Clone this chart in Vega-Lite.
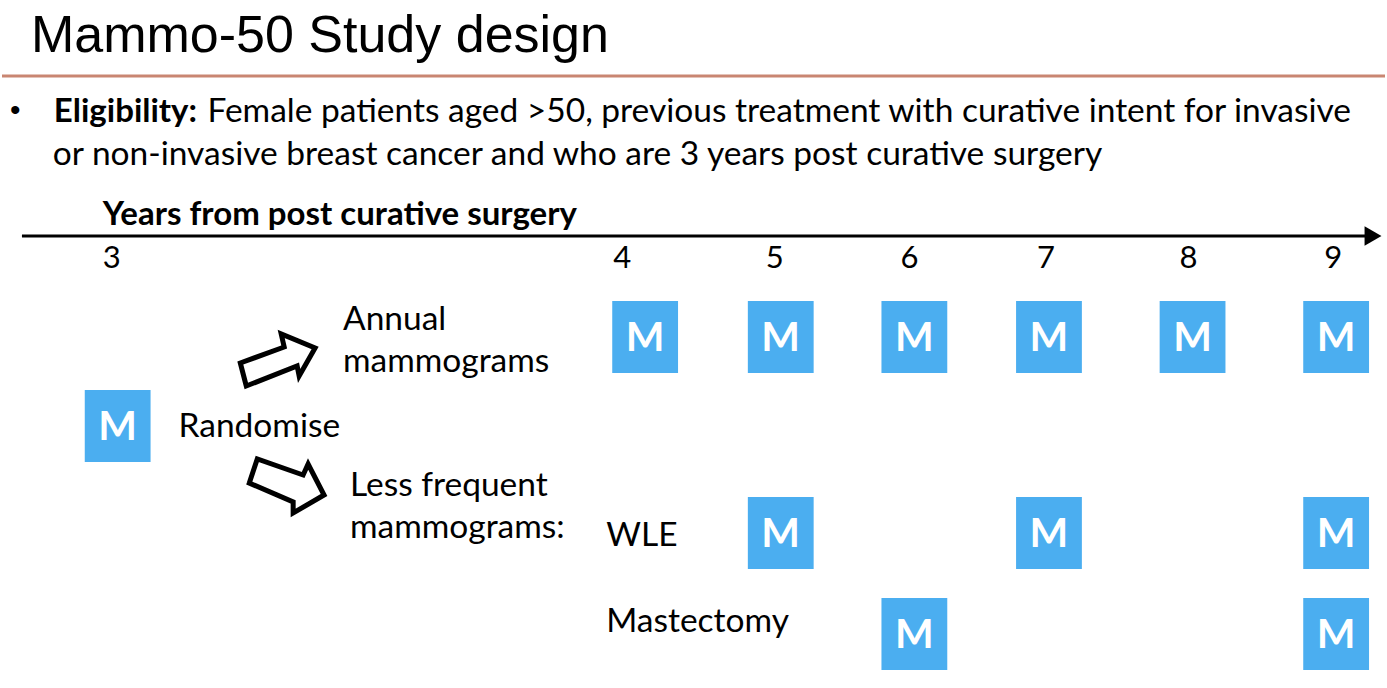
{
  "$schema": "https://vega.github.io/schema/vega-lite/v6.json",
  "autosize": {"type": "fit", "contains": "padding"},
  "width": 1387,
  "height": 688,
  "padding": 0,
  "background": "white",
  "config": {"view": {"stroke": null}},
  "datasets": {
    "boxes": [
      {"row": "annual", "x": 612, "x2": 678, "y": 301, "y2": 373, "cx": 645, "cy": 337},
      {"row": "annual", "x": 748, "x2": 814, "y": 301, "y2": 373, "cx": 781, "cy": 337},
      {"row": "annual", "x": 882, "x2": 948, "y": 301, "y2": 373, "cx": 915, "cy": 337},
      {"row": "annual", "x": 1017, "x2": 1083, "y": 301, "y2": 373, "cx": 1050, "cy": 337},
      {"row": "annual", "x": 1161, "x2": 1227, "y": 301, "y2": 373, "cx": 1194, "cy": 337},
      {"row": "annual", "x": 1305, "x2": 1371, "y": 301, "y2": 373, "cx": 1338, "cy": 337},
      {"row": "baseline", "x": 83, "x2": 149, "y": 390, "y2": 462, "cx": 116, "cy": 426},
      {"row": "wle", "x": 748, "x2": 814, "y": 497, "y2": 569, "cx": 781, "cy": 533},
      {"row": "wle", "x": 1017, "x2": 1083, "y": 497, "y2": 569, "cx": 1050, "cy": 533},
      {"row": "wle", "x": 1305, "x2": 1371, "y": 497, "y2": 569, "cx": 1338, "cy": 533},
      {"row": "mastectomy", "x": 882, "x2": 948, "y": 598, "y2": 670, "cx": 915, "cy": 634},
      {"row": "mastectomy", "x": 1305, "x2": 1371, "y": 598, "y2": 670, "cx": 1338, "cy": 634}
    ],
    "arrows": [
      {"arrow": "up", "o": 1, "x": 245, "y": 386},
      {"arrow": "up", "o": 2, "x": 239, "y": 363},
      {"arrow": "up", "o": 3, "x": 283, "y": 347},
      {"arrow": "up", "o": 4, "x": 280, "y": 334},
      {"arrow": "up", "o": 5, "x": 314, "y": 348},
      {"arrow": "up", "o": 6, "x": 298, "y": 376},
      {"arrow": "up", "o": 7, "x": 296, "y": 366},
      {"arrow": "up", "o": 8, "x": 245, "y": 386},
      {"arrow": "up", "o": 9, "x": 239, "y": 363},
      {"arrow": "down", "o": 1, "x": 256, "y": 459},
      {"arrow": "down", "o": 2, "x": 248, "y": 483},
      {"arrow": "down", "o": 3, "x": 292, "y": 502},
      {"arrow": "down", "o": 4, "x": 292, "y": 513},
      {"arrow": "down", "o": 5, "x": 323, "y": 495},
      {"arrow": "down", "o": 6, "x": 307, "y": 464},
      {"arrow": "down", "o": 7, "x": 302, "y": 475},
      {"arrow": "down", "o": 8, "x": 256, "y": 459},
      {"arrow": "down", "o": 9, "x": 248, "y": 483}
    ]
  },
  "encoding": {
    "x": {"type": "quantitative", "scale": {"domain": [0, 1387]}, "axis": null},
    "y": {"type": "quantitative", "scale": {"domain": [0, 688], "reverse": true}, "axis": null}
  },
  "layer": [
    {
      "data": {"values": [{"x": 0, "x2": 1387, "y": 76}]},
      "mark": {"type": "rule", "strokeWidth": 3, "color": "#C98672"},
      "encoding": {"x": {"field": "x", "type": "quantitative"}, "x2": {"field": "x2"}, "y": {"field": "y", "type": "quantitative"}}
    },
    {
      "data": {"values": [{"x": 20, "x2": 1372, "y": 236}]},
      "mark": {"type": "rule", "strokeWidth": 3, "color": "black"},
      "encoding": {"x": {"field": "x", "type": "quantitative"}, "x2": {"field": "x2"}, "y": {"field": "y", "type": "quantitative"}}
    },
    {
      "data": {"values": [{"x": 1375, "y": 236}]},
      "mark": {"type": "point", "shape": "triangle-right", "filled": true, "size": 380, "color": "black", "opacity": 1},
      "encoding": {"x": {"field": "x", "type": "quantitative"}, "y": {"field": "y", "type": "quantitative"}}
    },
    {
      "data": {"name": "arrows"},
      "mark": {"type": "line", "strokeWidth": 5, "color": "black", "strokeJoin": "miter", "strokeMiterLimit": 10},
      "encoding": {
        "x": {"field": "x", "type": "quantitative"},
        "y": {"field": "y", "type": "quantitative"},
        "detail": {"field": "arrow"},
        "order": {"field": "o", "type": "quantitative"}
      }
    },
    {
      "data": {"name": "boxes"},
      "mark": {"type": "rect", "color": "#4BAEF0"},
      "encoding": {
        "x": {"field": "x", "type": "quantitative"}, "x2": {"field": "x2"},
        "y": {"field": "y", "type": "quantitative"}, "y2": {"field": "y2"}
      }
    },
    {
      "data": {"name": "boxes"},
      "mark": {"type": "text", "text": "M", "color": "white", "font": "Lato", "fontWeight": "bold", "fontSize": 41, "align": "center", "baseline": "middle", "dy": 2},
      "encoding": {"x": {"field": "cx", "type": "quantitative"}, "y": {"field": "cy", "type": "quantitative"}}
    },
    {
      "data": {"values": [{"x": 29, "y": 52, "t": "Mammo-50 Study design"}]},
      "mark": {"type": "text", "font": "Liberation Sans", "fontSize": 52, "align": "left", "baseline": "alphabetic", "color": "black"},
      "encoding": {"x": {"field": "x", "type": "quantitative"}, "y": {"field": "y", "type": "quantitative"}, "text": {"field": "t"}}
    },
    {
      "data": {"values": [{"x": 8, "y": 120, "t": "•"}]},
      "mark": {"type": "text", "font": "Liberation Sans", "fontSize": 30, "align": "left", "baseline": "alphabetic", "color": "black"},
      "encoding": {"x": {"field": "x", "type": "quantitative"}, "y": {"field": "y", "type": "quantitative"}, "text": {"field": "t"}}
    },
    {
      "data": {"values": [
        {"x": 52, "y": 122, "t": "Eligibility:"},
        {"x": 101, "y": 225, "t": "Years from post curative surgery"}
      ]},
      "mark": {"type": "text", "font": "Lato", "fontWeight": "bold", "fontSize": 33, "align": "left", "baseline": "alphabetic", "color": "black"},
      "encoding": {"x": {"field": "x", "type": "quantitative"}, "y": {"field": "y", "type": "quantitative"}, "text": {"field": "t"}}
    },
    {
      "data": {"values": [
        {"x": 206, "y": 122, "t": "Female patients aged >50, previous treatment with curative intent for invasive"},
        {"x": 51, "y": 165, "t": "or non-invasive breast cancer and who are 3 years post curative surgery"},
        {"x": 342, "y": 330, "t": "Annual"},
        {"x": 342, "y": 372, "t": "mammograms"},
        {"x": 177, "y": 437, "t": "Randomise"},
        {"x": 349, "y": 496, "t": "Less frequent"},
        {"x": 349, "y": 538, "t": "mammograms:"},
        {"x": 606, "y": 546, "t": "WLE"},
        {"x": 606, "y": 632, "t": "Mastectomy"}
      ]},
      "mark": {"type": "text", "font": "Lato", "fontSize": 33.5, "align": "left", "baseline": "alphabetic", "color": "black"},
      "encoding": {"x": {"field": "x", "type": "quantitative"}, "y": {"field": "y", "type": "quantitative"}, "text": {"field": "t"}}
    },
    {
      "data": {"values": [
        {"x": 110, "y": 268, "t": "3"},
        {"x": 622, "y": 268, "t": "4"},
        {"x": 775, "y": 268, "t": "5"},
        {"x": 910, "y": 268, "t": "6"},
        {"x": 1047, "y": 268, "t": "7"},
        {"x": 1190, "y": 268, "t": "8"},
        {"x": 1335, "y": 268, "t": "9"}
      ]},
      "mark": {"type": "text", "font": "Lato", "fontSize": 31, "align": "center", "baseline": "alphabetic", "color": "black"},
      "encoding": {"x": {"field": "x", "type": "quantitative"}, "y": {"field": "y", "type": "quantitative"}, "text": {"field": "t"}}
    }
  ]
}
